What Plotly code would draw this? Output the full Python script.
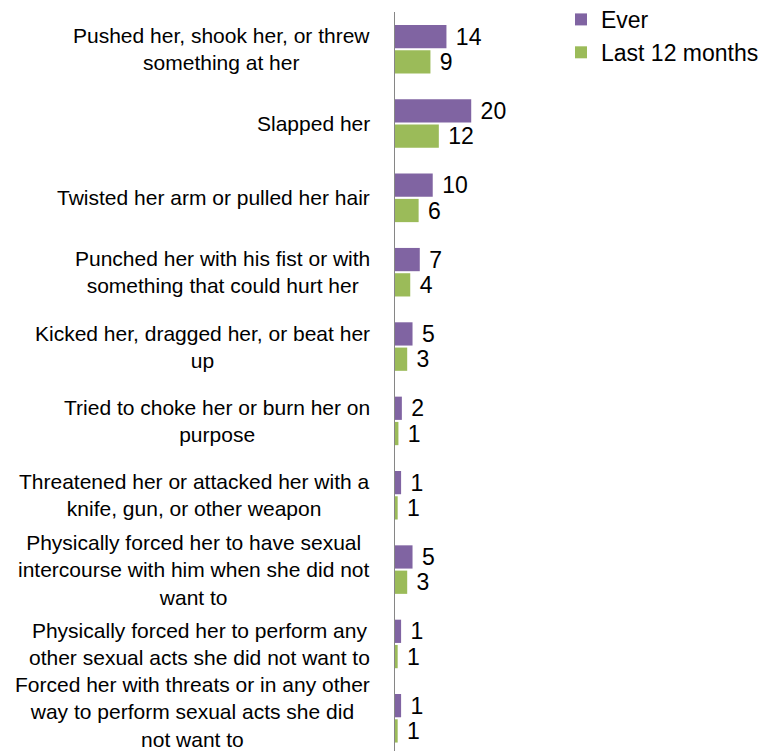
import plotly.graph_objects as go

categories = [
    "Pushed her, shook her, or threw<br>something at her",
    "Slapped her",
    "Twisted her arm or pulled her hair",
    "Punched her with his fist or with<br>something that could hurt her",
    "Kicked her, dragged her, or beat her<br>up",
    "Tried to choke her or burn her on<br>purpose",
    "Threatened her or attacked her with a<br>knife, gun, or other weapon",
    "Physically forced her to have sexual<br>intercourse with him when she did not<br>want to",
    "Physically forced her to perform any<br>other sexual acts she did not want to",
    "Forced her with threats or in any other<br>way to perform sexual acts she did<br>not want to",
]
cat_ids = [f"c{i}" for i in range(len(categories))]

# bar lengths (percent)
ever_values = [13.5, 20.0, 9.9, 6.5, 4.6, 1.8, 1.6, 4.6, 1.6, 1.6]
last12_values = [9.3, 11.5, 6.2, 4.0, 3.2, 0.9, 0.7, 3.2, 0.7, 0.7]
# data labels as printed
ever_labels = ["14", "20", "10", "7", "5", "2", "1", "5", "1", "1"]
last12_labels = ["9", "12", "6", "4", "3", "1", "1", "3", "1", "1"]

PURPLE = "#8064A2"
GREEN = "#9BBB59"
FONT = "Liberation Sans, Arial, sans-serif"

fig = go.Figure()
fig.add_trace(go.Bar(
    y=cat_ids, x=ever_values, orientation="h", name="Ever",
    marker=dict(color=PURPLE, line=dict(width=0)),
    text=["\u00a0" + t for t in ever_labels], textposition="outside",
    constraintext="none",
    textfont=dict(size=23, color="black", family=FONT), cliponaxis=False,
))
fig.add_trace(go.Bar(
    y=cat_ids, x=last12_values, orientation="h", name="Last 12 months",
    marker=dict(color=GREEN, line=dict(width=0)),
    text=["\u00a0" + t for t in last12_labels], textposition="outside",
    constraintext="none",
    textfont=dict(size=23, color="black", family=FONT), cliponaxis=False,
))

for i, (cid, label) in enumerate(zip(cat_ids, categories)):
    fig.add_annotation(
        x=0, xref="paper", y=cid, yref="y", text=label, showarrow=False,
        xanchor="right", yanchor="middle", align="center", xshift=-23,
        yshift=6 if i == len(categories) - 1 else 0,
        font=dict(size=21, color="black", family=FONT),
    )

fig.update_layout(
    width=762, height=743,
    margin=dict(l=387, r=0, t=4, b=0, autoexpand=False),
    paper_bgcolor="white", plot_bgcolor="white",
    barmode="group", bargap=0.32, bargroupgap=0.08,
    font=dict(family=FONT, color="black"),
    showlegend=True,
    legend=dict(
        xref="container", yref="paper", x=0.7257, y=1.019,
        xanchor="left", yanchor="top", traceorder="normal",
        font=dict(size=23, color="black", family=FONT),
        bgcolor="rgba(0,0,0,0)", itemwidth=30,
    ),
    xaxis=dict(range=[0, 98.4], showgrid=False, zeroline=False,
               showticklabels=False, showline=False, ticks=""),
    yaxis=dict(type="category", categoryorder="array", categoryarray=cat_ids,
               range=[9.44, -0.5], showgrid=False, zeroline=False,
               showticklabels=False, ticks="", showline=True,
               linecolor="#868686", linewidth=1),
)

fig.write_html("out.html")
